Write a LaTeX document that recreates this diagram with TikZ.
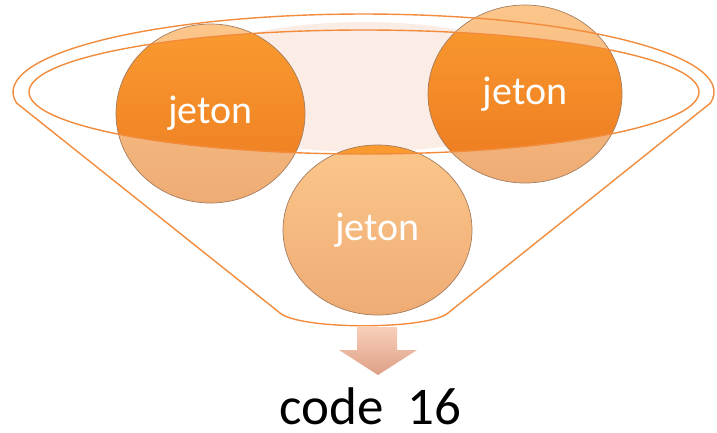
\documentclass[tikz,border=0pt]{standalone}
\usepackage{fontspec}
\setmainfont{Carlito}
\usetikzlibrary{shapes.geometric}
\pgfdeclarelayer{background}
\pgfsetlayers{background,main}
\definecolor{funnelline}{RGB}{242,140,60}
\definecolor{mouthpink}{RGB}{252,236,230}
\definecolor{darktop}{RGB}{250,155,48}
\definecolor{darkbottom}{RGB}{236,122,32}
\definecolor{peachtop}{RGB}{252,198,138}
\definecolor{peachbottom}{RGB}{238,172,116}
\definecolor{jetonedge}{RGB}{165,125,95}
\definecolor{spouttop}{RGB}{248,206,186}
\definecolor{spoutbottom}{RGB}{222,160,134}

\begin{document}
\begin{tikzpicture}[x=1pt,y=-1pt,
  funnel/.style={draw=funnelline,line width=1.4pt},
  jeton/.style={ellipse,inner sep=0pt,draw=jetonedge,line width=0.7pt,
    text=white,font=\fontsize{40}{48}\selectfont}]
\useasboundingbox (0,0) rectangle (717,432);
\coordinate (mouth) at (364,92);
\node[jeton,minimum width=189pt,minimum height=179pt] (jl) at (210.5,113.5) {jeton};
\node[jeton,minimum width=194pt,minimum height=178pt] (jr) at (525,94) {jeton};
\node[jeton,minimum width=189pt,minimum height=170pt] (jb) at (377.5,230) {jeton};
\begin{pgfonlayer}{background}
\fill[mouthpink] (364,87) ellipse [x radius=200,y radius=65];
\foreach \j/\rx/\ry in {jl/94.5/89.5,jr/97/89,jb/94.5/85}
  \shade[top color=peachtop,bottom color=peachbottom] (\j) ellipse [x radius=\rx,y radius=\ry];
\begin{scope}
\clip (mouth) ellipse [x radius=335,y radius=62];
\foreach \j/\rx/\ry in {jl/94.5/89.5,jr/97/89,jb/94.5/85}
  \shade[top color=darktop,bottom color=darkbottom] (\j) ellipse [x radius=\rx,y radius=\ry];
\end{scope}
\end{pgfonlayer}
\draw[funnel] (mouth) ellipse [x radius=335,y radius=62];
\draw[funnel] (280,313) .. controls (300,330) and (428,330) .. (448,313)
  -- (710.5,103) arc [start angle=8.1,end angle=-188.1,x radius=350.5,y radius=78] -- cycle;
\shade[top color=spouttop,bottom color=spoutbottom] (357,327) -- (397,327) -- (397,350)
  -- (417,350) -- (378,375) -- (339,350) -- (357,350) -- cycle;
\node[font=\fontsize{53}{63}\selectfont,anchor=base,inner sep=0pt] (code) at (370.5,424) {code\ \ 16};
\end{tikzpicture}
\end{document}
